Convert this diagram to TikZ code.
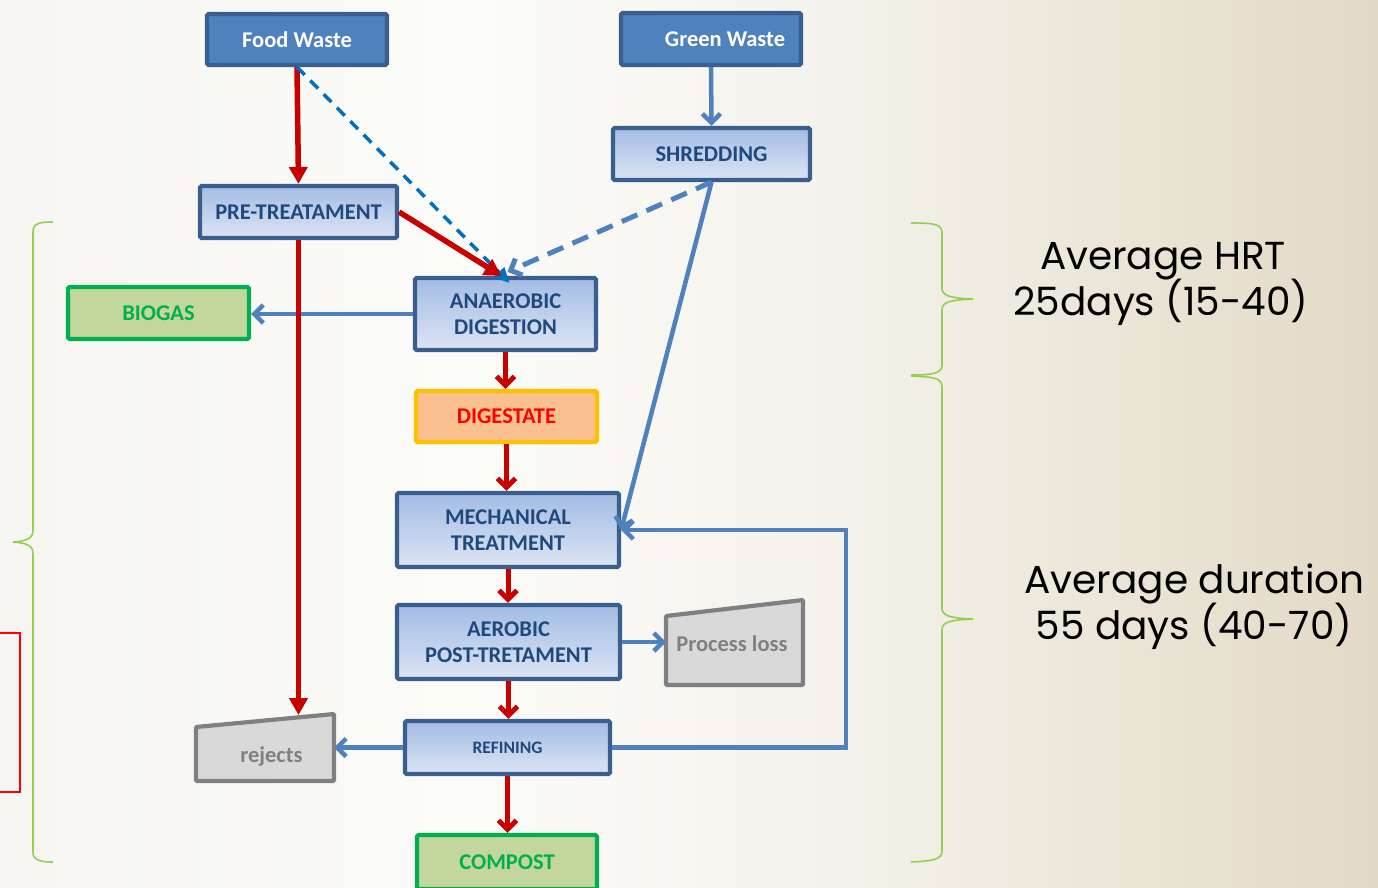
\documentclass[tikz,border=0pt]{standalone}
\usepackage{fontspec}
\usetikzlibrary{arrows.meta,calc}
\newfontfamily\carl{Carlito}
\newfontfamily\gothic{Poppins}

\definecolor{fwblue}{HTML}{4F81BD}
\definecolor{boxline}{HTML}{3A5F8E}
\definecolor{lbtop}{HTML}{A3BCE4}
\definecolor{lbbot}{HTML}{DCE4F4}
\definecolor{txtblue}{HTML}{1F497D}
\definecolor{gbord}{HTML}{00B050}
\definecolor{gfill}{HTML}{C3D69B}
\definecolor{dbord}{HTML}{FFC000}
\definecolor{dfill}{HTML}{FAC090}
\definecolor{dtext}{HTML}{FF0000}
\definecolor{greyline}{HTML}{808080}
\definecolor{greyfill}{HTML}{D9D9D9}
\definecolor{arrred}{HTML}{C80000}
\definecolor{arrblue}{HTML}{4F81BD}
\definecolor{dashblue}{HTML}{0070C0}
\definecolor{bracegreen}{HTML}{92D050}

% slide background: pale on the left, warm beige towards the right
% (the filled area spans 25bp to 75bp of the shading)
\pgfdeclarehorizontalshading{slidebg}{100bp}{
  rgb(0bp)=(0.965,0.960,0.945);
  rgb(25bp)=(0.965,0.960,0.945);
  rgb(42bp)=(0.985,0.985,0.975);
  rgb(55bp)=(0.960,0.950,0.925);
  rgb(75bp)=(0.885,0.855,0.775);
  rgb(100bp)=(0.885,0.855,0.775)}

\begin{document}
\begin{tikzpicture}[x=1pt,y=-1pt,
  base/.style={rounded corners=1.5pt, line width=4.2pt, inner sep=0pt, align=center,
    font=\carl\bfseries\fontsize{22.5}{26}\selectfont},
  darkbox/.style={base, draw=boxline, fill=fwblue, text=white},
  lightbox/.style={base, draw=boxline, top color=lbtop, bottom color=lbbot, text=txtblue},
  greenbox/.style={base, draw=gbord, fill=gfill, text=gbord},
  digbox/.style={base, draw=dbord, fill=dfill, text=dtext},
  trap/.style={draw=greyline, fill=greyfill, line width=4.2pt, rounded corners=1pt},
  traptext/.style={text=greyline, font=\carl\bfseries\fontsize{22.5}{26}\selectfont, inner sep=0pt},
  redflow/.style={draw=arrred, line width=5.5pt, -{Triangle[length=17pt,width=18pt]}},
  redstep/.style={draw=arrred, line width=5pt, -{Straight Barb[length=9pt,width=18pt]}},
  blueflow/.style={draw=arrblue, line width=4.5pt, -{Straight Barb[length=9pt,width=18pt]}},
  bracestyle/.style={draw=bracegreen, line width=1.6pt},
  note/.style={font=\gothic\fontsize{39}{46}\selectfont, text=black, inner sep=0pt, anchor=base}
]
\useasboundingbox (0,0) rectangle (1378,887);
\shade[shading=slidebg] (0,0) rectangle (1378,887);

% process boxes
\node[darkbox, minimum width=180, minimum height=51] (food) at (297,39.5) {Food Waste};
\node[darkbox, minimum width=180, minimum height=52] (green) at (711,39) {\hspace*{28pt}Green Waste};
\node[lightbox, minimum width=197, minimum height=52] (shred) at (711.5,154) {SHREDDING};
\node[lightbox, minimum width=197, minimum height=52] (pre) at (298.5,212) {PRE-TREATAMENT};
\node[lightbox, minimum width=181, minimum height=72] (anaer) at (505.5,314) {ANAEROBIC\\DIGESTION};
\node[greenbox, minimum width=181, minimum height=52] (biogas) at (158.5,313) {BIOGAS};
\node[digbox, minimum width=181, minimum height=51] (dig) at (506.5,416.5) {DIGESTATE};
\node[lightbox, minimum width=222, minimum height=74] (mech) at (508,530) {MECHANICAL\\TREATMENT};
\node[lightbox, minimum width=223, minimum height=74] (aer) at (508.5,642) {AEROBIC\\POST-TRETAMENT};
\node[lightbox, minimum width=205, minimum height=53, font=\carl\bfseries\fontsize{17.5}{20}\selectfont] (ref) at (507.5,747.5) {REFINING};
\node[greenbox, minimum width=180, minimum height=54] (compost) at (507,862) {COMPOST};

% sloped output boxes
\draw[trap] (666,616) -- (803,600) -- (803,685) -- (666,685) -- cycle;
\node[traptext] (loss) at (732,644) {Process loss};
\coordinate (lossL) at (666,642);
\draw[trap] (196,727) -- (334,714) -- (334,781) -- (196,781) -- cycle;
\node[traptext] (rej) at (271.5,756) {rejects};
\coordinate (rejR) at (334,747);
\coordinate (rejT) at (298.5,715);

% partly visible frame at the left edge
\draw[draw=dtext, line width=1.5pt] (-10,633) -- (20,633) -- (20,792) -- (-10,792);

% flows
\draw[redflow] (food.south) -- (pre.north);
\draw[draw=dashblue, line width=3.5pt, dash pattern=on 11pt off 8pt,
  -{Triangle[length=15pt,width=14pt]}] (food.south) -- ($(anaer.north)+(4,7)$);
\draw[draw=arrred, line width=5.5pt, -{Triangle[length=17pt,width=18pt]}] (pre.east) -- ($(anaer.north)+(-4,0)$);
\draw[draw=arrblue, line width=5pt, dash pattern=on 17pt off 10pt,
  -{Straight Barb[length=9pt,width=18pt]}] (shred.south) -- ($(anaer.north)+(2,-4)$);
\draw[blueflow] (green.south) -- (shred.north);
\draw[blueflow] (shred.south) -- (mech.east);
\draw[blueflow] (anaer.west) -- (anaer.west -| biogas.east);
\draw[redflow] (pre.south) -- (pre.south |- rejT);
\draw[redstep] (anaer.south) -- (anaer.south |- dig.north);
\draw[redstep] (dig.south) -- (dig.south |- mech.north);
\draw[redstep] (mech.south) -- (mech.south |- aer.north);
\draw[redstep] (aer.south) -- (aer.south |- ref.north);
\draw[redstep] (ref.south) -- (ref.south |- compost.north);
\draw[blueflow] (aer.east) -- (aer.east -| lossL);
\draw[blueflow] (ref.west) -- (ref.west -| rejR);
\draw[blueflow] (ref.east) -- ++(234,0) |- (mech.east);

% braces
\draw[bracestyle] (53,222) .. controls (40,222) and (33,223) .. (33,232) -- (33,530)
  .. controls (33,538) and (28,541) .. (13,542)
  .. controls (28,543) and (33,546) .. (33,554) -- (33,852)
  .. controls (33,860) and (40,862) .. (53,862);
\draw[bracestyle] (911,223) .. controls (934,223) and (942,224) .. (942,233) -- (942,288)
  .. controls (942,295) and (947,298) .. (973,299)
  .. controls (947,300) and (942,303) .. (942,310) -- (942,365)
  .. controls (942,373) and (934,375) .. (911,375);
\draw[bracestyle] (911,376) .. controls (934,377) and (942,378) .. (942,387) -- (942,608)
  .. controls (942,615) and (947,618) .. (973,619)
  .. controls (947,620) and (942,623) .. (942,630) -- (942,851)
  .. controls (942,859) and (934,861) .. (911,862);

% durations
\node[note] (hrtA) at (1163,269) {Average HRT};
\node[note] (hrtB) at (1161,315) {25days (15-40)};
\node[note] (durA) at (1194.5,593) {Average duration};
\node[note] (durB) at (1194,639) {55 days (40-70)};
\end{tikzpicture}
\end{document}
